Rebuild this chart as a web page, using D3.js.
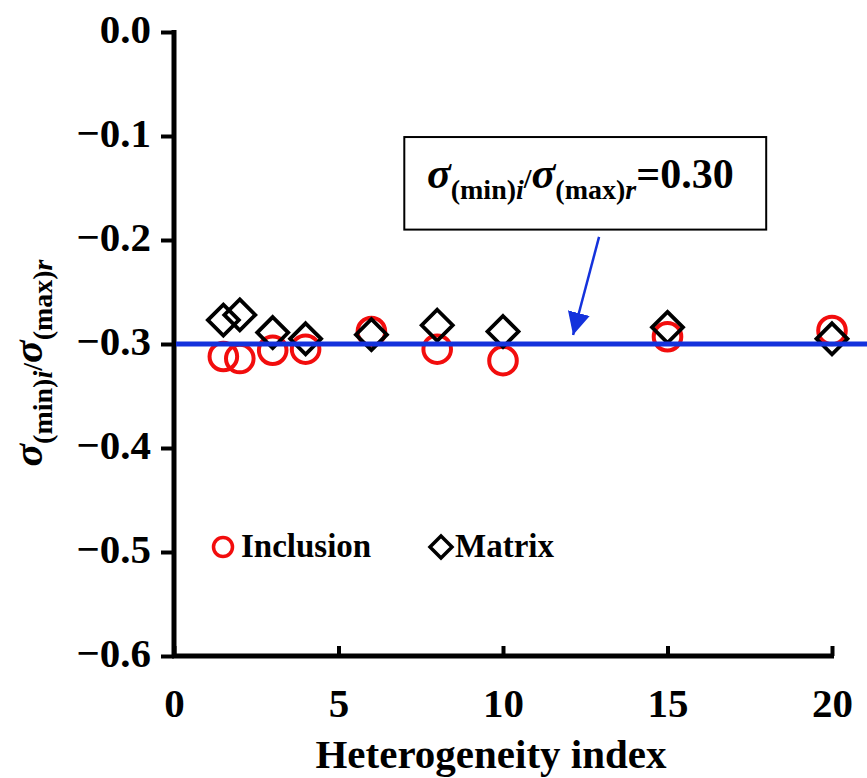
<!DOCTYPE html>
<html>
<head>
<meta charset="utf-8">
<script src="https://cdn.jsdelivr.net/npm/d3@7"></script>
<style>
  body { margin: 0; background: #fff; }
  svg { display: block; }
  text { font-family: "Liberation Serif", "Times New Roman", serif; font-weight: bold; }
</style>
</head>
<body>
<div id="chart"></div>
<script>
// values
const heterogeneity = [1.5, 2, 3, 4, 6, 8, 10, 15, 20];
const inclusion = [-0.312, -0.314, -0.306, -0.305, -0.288, -0.305, -0.316, -0.293, -0.287];
const matrix = [-0.277, -0.272, -0.289, -0.295, -0.291, -0.282, -0.288, -0.284, -0.295];
const ratioValue = -0.30;
const xTicks = [0, 5, 10, 15, 20];
const yTicks = [0, -0.1, -0.2, -0.3, -0.4, -0.5, -0.6];
const seriesNames = ['Inclusion', 'Matrix'];

const width = 867;
const height = 778;

const x = d3.scaleLinear().domain([0, 20]).range([174, 832]);
const y = d3.scaleLinear().domain([-0.6, 0]).range([656, 32]);

const svg = d3.select('#chart')
  .append('svg')
  .attr('width', width)
  .attr('height', height);

// sigma ratio text with subscripts
function sigmaText(sel, big, small, sub, tail, tailSize) {
  const parts = [
    { t: 'σ', it: true, s: big, dy: 0 },
    { t: '(min)', s: small, dy: sub },
    { t: 'i', it: true, s: small, dy: 0 },
    { t: '/', s: small, dy: -sub },
    { t: 'σ', it: true, s: big, dy: 0 },
    { t: '(max)', s: small, dy: sub },
    { t: 'r', it: true, s: small, dy: 0 }
  ];
  if (tail) parts.push({ t: tail, s: tailSize, dy: -sub });
  parts.forEach(p => {
    sel.append('tspan')
      .attr('dy', p.dy)
      .style('font-size', p.s + 'px')
      .style('font-style', p.it ? 'italic' : 'normal')
      .text(p.t);
  });
}

// y axis
const yAxis = svg.append('g')
  .attr('transform', `translate(${x(0)},0)`)
  .call(d3.axisLeft(y)
    .tickValues(yTicks)
    .tickFormat(d3.format('.1f'))
    .tickSizeInner(13)
    .tickSizeOuter(0)
    .tickPadding(10));
yAxis.select('.domain').attr('stroke', '#000').attr('stroke-width', 5)
  .attr('d', `M0,${y(0) - 2}V${y(-0.6) + 2}`);
yAxis.selectAll('.tick line').attr('stroke', '#000').attr('stroke-width', 4);
yAxis.selectAll('.tick text')
  .attr('fill', '#000')
  .attr('dy', '0.25em')
  .style('font-size', '41px');

// x axis
const xAxis = svg.append('g')
  .attr('transform', `translate(0,${y(-0.6)})`)
  .call(d3.axisBottom(x)
    .tickValues(xTicks)
    .tickSizeInner(-10)
    .tickSizeOuter(0));
xAxis.select('.domain').attr('stroke', '#000').attr('stroke-width', 5)
  .attr('d', `M${x(0) - 2},0H${x(20) + 2}`);
xAxis.selectAll('.tick line').attr('stroke', '#000').attr('stroke-width', 4)
  .attr('y1', 0);
xAxis.selectAll('.tick text')
  .attr('fill', '#000')
  .attr('y', 61)
  .attr('dy', 0)
  .style('font-size', '41px');

svg.append('text')
  .attr('x', 491)
  .attr('y', 768)
  .attr('text-anchor', 'middle')
  .style('font-size', '41px')
  .text('Heterogeneity index');

// y axis title
const yTitle = svg.append('text')
  .attr('transform', 'translate(42,363) rotate(-90)')
  .attr('text-anchor', 'middle');
sigmaText(yTitle, 42, 28, 10, null);

// data points
svg.append('g')
  .selectAll('circle')
  .data(heterogeneity)
  .join('circle')
  .attr('cx', d => x(d))
  .attr('cy', (d, i) => y(inclusion[i]))
  .attr('r', 13.8)
  .attr('fill', 'none')
  .attr('stroke', '#f20d0d')
  .attr('stroke-width', 4);

const diamond = s => `M0,${-s}L${s},0L0,${s}L${-s},0Z`;
svg.append('g')
  .selectAll('path')
  .data(heterogeneity)
  .join('path')
  .attr('transform', (d, i) => `translate(${x(d)},${y(matrix[i])})`)
  .attr('d', diamond(15.5))
  .attr('fill', 'none')
  .attr('stroke', '#000')
  .attr('stroke-width', 3.8)
  .attr('stroke-linejoin', 'miter');

// reference line
svg.append('line')
  .attr('x1', x(0) + 2)
  .attr('x2', width)
  .attr('y1', y(ratioValue))
  .attr('y2', y(ratioValue))
  .attr('stroke', '#1432dc')
  .attr('stroke-width', 5);

// annotation box
svg.append('rect')
  .attr('x', x(7))
  .attr('y', y(-0.101))
  .attr('width', x(18) - x(7))
  .attr('height', y(-0.19) - y(-0.101))
  .attr('fill', '#fff')
  .attr('stroke', '#000')
  .attr('stroke-width', 2);

const note = svg.append('text')
  .attr('x', 427)
  .attr('y', 188);
sigmaText(note, 44, 28, 11, '=' + d3.format('.2f')(-ratioValue), 42);

// arrow
svg.append('defs').append('marker')
  .attr('id', 'arrowhead')
  .attr('viewBox', '0 0 10 10')
  .attr('refX', 10)
  .attr('refY', 5)
  .attr('markerWidth', 9)
  .attr('markerHeight', 9)
  .attr('markerUnits', 'strokeWidth')
  .attr('orient', 'auto')
  .append('path')
  .attr('d', 'M0,0L10,5L0,10Z')
  .attr('fill', '#1432dc');

svg.append('line')
  .attr('x1', x(12.92))
  .attr('y1', y(-0.197))
  .attr('x2', x(12.13))
  .attr('y2', y(-0.2913))
  .attr('stroke', '#1432dc')
  .attr('stroke-width', 2.5)
  .attr('marker-end', 'url(#arrowhead)');

// legend
const legend = svg.append('g').attr('transform', 'translate(223,547)');
legend.append('circle')
  .attr('r', 9.5)
  .attr('fill', 'none')
  .attr('stroke', '#f20d0d')
  .attr('stroke-width', 3.5);
legend.append('text')
  .attr('x', 18)
  .attr('y', 10)
  .style('font-size', '33px')
  .text(seriesNames[0]);
legend.append('path')
  .attr('transform', 'translate(218,0)')
  .attr('d', diamond(11))
  .attr('fill', 'none')
  .attr('stroke', '#000')
  .attr('stroke-width', 3.5);
legend.append('text')
  .attr('x', 232)
  .attr('y', 10)
  .style('font-size', '33px')
  .text(seriesNames[1]);
</script>
</body>
</html>
